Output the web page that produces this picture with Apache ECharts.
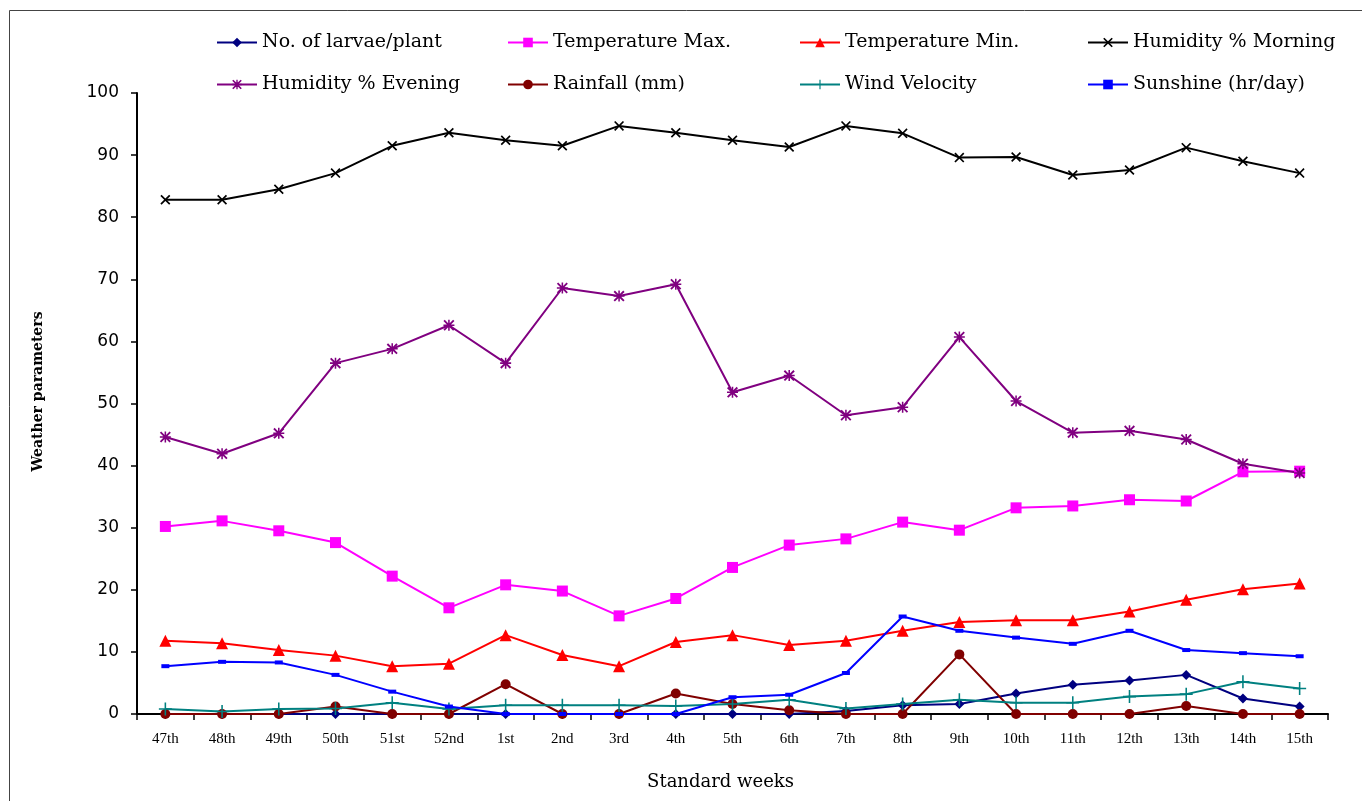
<!DOCTYPE html>
<html>
<head>
<meta charset="utf-8">
<script src="https://cdn.jsdelivr.net/npm/echarts@6/dist/echarts.min.js"></script>
<style>
  html, body { margin: 0; padding: 0; background: #ffffff; }
  #chart { width: 1362px; height: 801px; }
</style>
</head>
<body>
<div id="chart"></div>
<script>
// Standard weeks on the x axis
const weeks = ['47th','48th','49th','50th','51st','52nd','1st','2nd','3rd','4th','5th','6th','7th','8th','9th','10th','11th','12th','13th','14th','15th'];

// Weekly observations
const larvaePerPlant = [0,0,0,0,0,0,0,0,0,0,0,0,0.5,1.4,1.6,3.3,4.7,5.4,6.3,2.5,1.2];
const tempMax        = [30.2,31.1,29.5,27.6,22.2,17.1,20.8,19.8,15.8,18.6,23.6,27.2,28.2,30.9,29.6,33.2,33.5,34.5,34.3,39.0,39.1];
const tempMin        = [11.8,11.4,10.3,9.4,7.7,8.1,12.7,9.5,7.7,11.6,12.7,11.1,11.8,13.4,14.8,15.1,15.1,16.5,18.4,20.1,21.0];
const humidityMorn   = [82.8,82.8,84.5,87.1,91.5,93.6,92.4,91.5,94.7,93.6,92.4,91.3,94.7,93.5,89.6,89.7,86.8,87.6,91.2,89.0,87.1];
const humidityEve    = [44.6,41.9,45.2,56.5,58.8,62.6,56.5,68.6,67.3,69.2,51.8,54.5,48.1,49.4,60.7,50.4,45.3,45.6,44.2,40.3,38.8];
const rainfall       = [0,0,0,1.2,0,0,4.8,0,0,3.3,1.6,0.6,0,0,9.6,0,0,0,1.3,0,0];
const windVelocity   = [0.8,0.4,0.8,0.9,1.8,0.8,1.4,1.4,1.4,1.3,1.6,2.3,0.9,1.6,2.3,1.8,1.8,2.8,3.2,5.2,4.1];
const sunshine       = [7.7,8.4,8.3,6.3,3.6,1.2,0,0,0,0,2.7,3.1,6.6,15.7,13.4,12.3,11.3,13.4,10.3,9.8,9.3];

// Y axis scale
const yMin = 0, yMax = 100, yStep = 10;

// Marker shapes
const SYM_X = 'path://M0,1.2L1.2,0L5,3.8L8.8,0L10,1.2L6.2,5L10,8.8L8.8,10L5,6.2L1.2,10L0,8.8L3.8,5Z';
const SYM_PLUS = 'path://M4.4,0H5.6V4.4H10V5.6H5.6V10H4.4V5.6H0V4.4H4.4Z';
const SYM_STAR = 'path://M0,1.2L1.2,0L5,3.8L8.8,0L10,1.2L6.2,5L10,8.8L8.8,10L5,6.2L1.2,10L0,8.8L3.8,5Z' +
                 'M4.3,0H5.7V4.3H10V5.7H5.7V10H4.3V5.7H0V4.3H4.3Z';

const serif = '"DejaVu Serif", "Liberation Serif", serif';
const serifNarrow = '"Liberation Serif", "DejaVu Serif", serif';
const sans = '"DejaVu Sans", "Noto Sans", sans-serif';

const seriesDefs = [
  { name: 'No. of larvae/plant', data: larvaePerPlant, color: '#000080', symbol: 'diamond', size: 10 },
  { name: 'Temperature Max.',    data: tempMax,        color: '#FF00FF', symbol: 'rect', size: 11 },
  { name: 'Temperature Min.',    data: tempMin,        color: '#FF0000', symbol: 'triangle', size: 12 },
  { name: 'Humidity % Morning',  data: humidityMorn,   color: '#000000', symbol: SYM_X, size: 10 },
  { name: 'Humidity % Evening',  data: humidityEve,    color: '#800080', symbol: SYM_STAR, size: 11 },
  { name: 'Rainfall (mm)',       data: rainfall,       color: '#800000', symbol: 'circle', size: 10 },
  { name: 'Wind Velocity',       data: windVelocity,   color: '#008080', symbol: SYM_PLUS, size: 13 },
  { name: 'Sunshine (hr/day)',   data: sunshine,       color: '#0000FF', symbol: 'rect', size: [8, 4] }
];

// Legend slots: four columns, two rows
const legendCols = [216, 507, 799, 1087];
const legendRows = [33, 75];

const legends = seriesDefs.map((s, i) => ({
  data: [s.name],
  left: legendCols[i % 4],
  top: legendRows[Math.floor(i / 4)],
  itemWidth: 40,
  itemHeight: 12,
  itemGap: 0,
  padding: 0,
  textStyle: { fontFamily: serif, fontSize: 19, color: '#000' }
}));

const series = seriesDefs.map(s => ({
  name: s.name,
  type: 'line',
  data: s.data,
  symbol: s.symbol,
  symbolSize: s.size,
  showAllSymbol: true,
  lineStyle: { color: s.color, width: 2 },
  itemStyle: { color: s.color },
  emphasis: { disabled: true }
}));

const chart = echarts.init(document.getElementById('chart'), null, { renderer: 'canvas' });
chart.setOption({
  animation: false,
  backgroundColor: '#ffffff',
  graphic: [{
    type: 'rect',
    shape: { x: 9.5, y: 10.5, width: 1400, height: 900 },
    style: { fill: 'none', stroke: '#444', lineWidth: 1 },
    silent: true
  }],
  legend: legends,
  grid: { left: 137, right: 34, top: 93, bottom: 87, containLabel: false },
  xAxis: {
    type: 'category',
    data: weeks,
    boundaryGap: true,
    name: 'Standard weeks',
    nameLocation: 'middle',
    nameGap: 59,
    nameTextStyle: { fontFamily: serif, fontSize: 18, color: '#000', padding: [0, 24, 0, 0] },
    axisLine: { lineStyle: { color: '#000', width: 2 } },
    axisTick: { show: true, alignWithLabel: false, length: 6, lineStyle: { color: '#000', width: 1.5 } },
    axisLabel: { fontFamily: serifNarrow, fontSize: 15, color: '#000', margin: 18, interval: 0 },
    splitLine: { show: false }
  },
  yAxis: {
    type: 'value',
    min: yMin,
    max: yMax,
    interval: yStep,
    name: 'Weather parameters',
    nameLocation: 'middle',
    nameGap: 92,
    nameTextStyle: { fontFamily: serif, fontSize: 14, fontWeight: 'bold', color: '#000', padding: [0, 0, 0, 24] },
    axisLine: { show: true, lineStyle: { color: '#000', width: 2 } },
    axisTick: { show: true, length: 6, lineStyle: { color: '#000', width: 1.5 } },
    axisLabel: { fontFamily: sans, fontSize: 17, color: '#000', margin: 18 },
    splitLine: { show: false }
  },
  series: series
});
</script>
</body>
</html>
